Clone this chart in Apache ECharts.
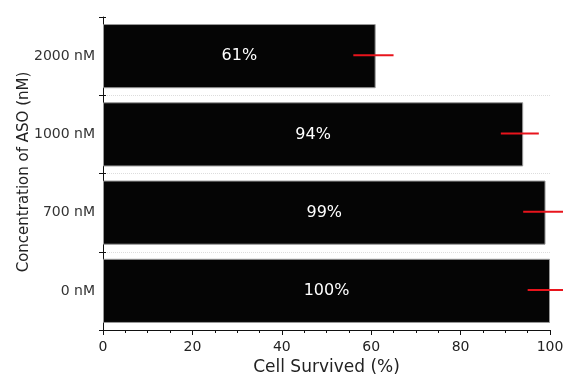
<!DOCTYPE html>
<html><head><meta charset="utf-8">
<script src="https://cdn.jsdelivr.net/npm/echarts@6/dist/echarts.min.js"></script>
<style>html,body{margin:0;padding:0;background:#fff}#c{width:563px;height:377px}</style>
</head><body><div id="c"></div>
<script>
const categories = ['0 nM', '700 nM', '1000 nM', '2000 nM'];
const survived = [100, 99, 94, 61];
const errLow = [95, 94, 89, 56];
const errHigh = [105, 104, 97.5, 65];
const xTicks = [0, 20, 40, 60, 80, 100];
const yTitle = 'Concentration of ASO (nM)';

const chart = echarts.init(document.getElementById('c'), null, {renderer: 'canvas'});
const FONT = 'DejaVu Sans, Arial, sans-serif';
chart.setOption({
  animation: false,
  grid: {left: 103, right: 13, top: 17, bottom: 47, containLabel: false, outerBoundsMode: 'none'},
  graphic: [{
    type: 'text', x: 24, y: 172, rotation: Math.PI / 2,
    style: {text: yTitle, fontFamily: FONT, fontSize: 15, fill: '#222', align: 'center', verticalAlign: 'middle'}
  }],
  xAxis: {
    type: 'value', min: xTicks[0], max: xTicks[xTicks.length - 1], interval: 20,
    name: 'Cell Survived (%)', nameLocation: 'middle', nameGap: 29,
    nameTextStyle: {fontFamily: FONT, fontSize: 17, color: '#222'},
    axisLine: {show: true, lineStyle: {color: '#111', width: 1}},
    axisTick: {show: true, length: 5, lineStyle: {color: '#111'}},
    minorTick: {show: true, splitNumber: 4, length: 3, lineStyle: {color: '#111'}},
    axisLabel: {fontFamily: FONT, fontSize: 14, color: '#222', margin: 10},
    splitLine: {show: false}
  },
  yAxis: [{
    type: 'category', data: categories,
    axisLine: {show: true, lineStyle: {color: '#111'}},
    axisTick: {show: true, length: 4, lineStyle: {color: '#111'}},
    axisLabel: {fontFamily: FONT, fontSize: 14, color: '#333', margin: 8},
    splitLine: {show: true, showMaxLine: false, showMinLine: false, lineStyle: {color: '#ddd', type: 'dotted', width: 1}}
  }, {
    type: 'category', data: categories, position: 'left',
    axisLine: {show: false},
    axisTick: {show: true, inside: true, length: 3, lineStyle: {color: '#111'}},
    axisLabel: {show: false},
    splitLine: {show: false}
  }],
  series: [{
    type: 'bar', data: survived, barCategoryGap: '18%',
    itemStyle: {color: '#050505', borderColor: '#999', borderWidth: 1},
    label: {show: true, position: 'inside', formatter: '{c}%', color: '#fff', fontFamily: FONT, fontSize: 16}
  }, {
    type: 'custom', clip: false, z: 5,
    data: categories.map((c, i) => [i, errLow[i], errHigh[i]]),
    renderItem: function (params, api) {
      const i = api.value(0);
      const p1 = api.coord([api.value(1), i]);
      const p2 = api.coord([api.value(2), i]);
      return {type: 'line', shape: {x1: p1[0], y1: p1[1] - 1, x2: p2[0], y2: p2[1] - 1},
        style: {stroke: '#e8141c', lineWidth: 2}};
    },
    encode: {x: [1, 2], y: 0}
  }]
});
</script></body></html>
